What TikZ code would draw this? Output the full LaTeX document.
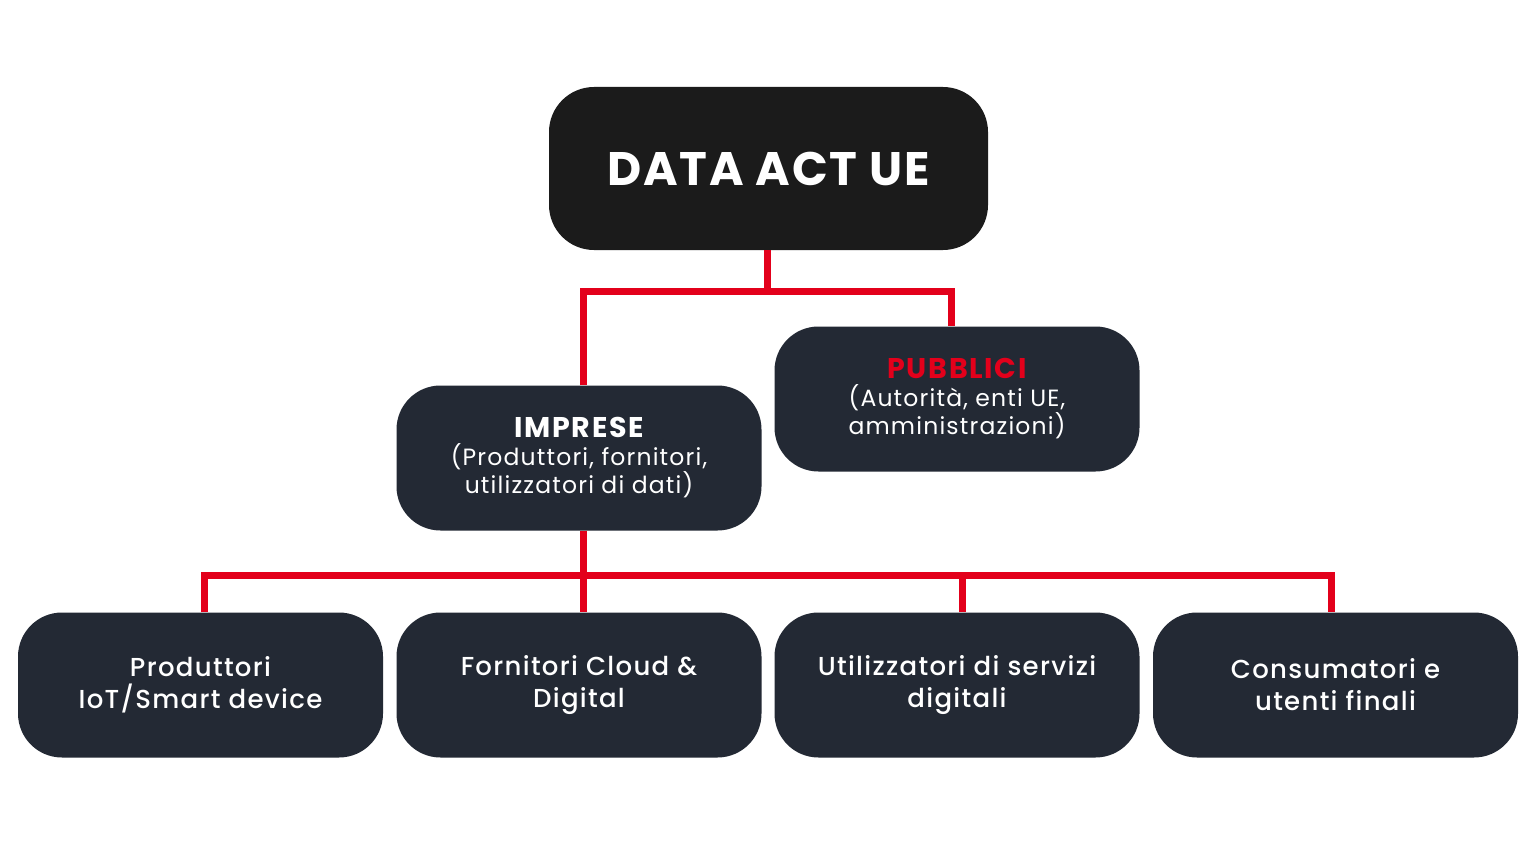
\documentclass[tikz,border=0pt]{standalone}
\usepackage{fontspec}
\setmainfont{Poppins}
\newfontfamily\pmed{Poppins Medium}[LetterSpace=5]
\newfontfamily\preg{Poppins}[LetterSpace=5]
\newfontfamily\pbold{Poppins}[BoldFont=* Bold,LetterSpace=4]
\newfontfamily\phead{Poppins}[BoldFont=* Bold,LetterSpace=6]
\definecolor{redline}{HTML}{E3001B}
\definecolor{topfill}{HTML}{1B1B1B}
\definecolor{boxfill}{HTML}{232934}
\begin{document}
\begin{tikzpicture}[x=1pt,y=-1pt,
  box/.style={fill=boxfill,rounded corners=44pt,minimum width=365pt,minimum height=145pt,inner sep=0pt,align=center,text=white},
  link/.style={draw=redline,line width=7pt,line join=miter}]
\useasboundingbox[fill=white] (0,0) rectangle (1536,864);
\node[fill=topfill,rounded corners=45pt,minimum width=439pt,minimum height=163pt,inner sep=0pt,text=white,font={\pbold\bfseries\fontsize{47}{52}\selectfont}] (top) at (768.5,168.5) {DATA ACT UE};
\node[box,font={\preg\fontsize{23.5}{28}\selectfont}] (imp) at (579,458) {{\phead\bfseries\fontsize{28.5}{29}\selectfont IMPRESE}\\(Produttori, fornitori,\\utilizzatori di dati)};
\node[box,font={\preg\fontsize{23.5}{28}\selectfont}] (pub) at (957,399) {{\phead\bfseries\fontsize{28.5}{29}\selectfont\color{redline}PUBBLICI}\\(Autorità, enti UE,\\amministrazioni)};
\node[box,font={\pmed\fontsize{26}{32}\selectfont}] (b1) at (200.5,685) {Produttori\\IoT/Smart device};
\node[box,font={\pmed\fontsize{26}{32}\selectfont}] (b2) at (579,685) {Fornitori Cloud \&\\Digital};
\node[box,font={\pmed\fontsize{26}{32}\selectfont}] (b3) at (957,685) {Utilizzatori di servizi\\digitali};
\node[box,font={\pmed\fontsize{26}{32}\selectfont}] (b4) at (1335.5,685) {Consumatori e\\utenti finali};
\draw[link] ([xshift=-1.5pt]top.south) -- ++(0,41) coordinate (j1);
\draw[link] ([xshift=4pt]imp.north) |- (j1) -| ([xshift=-6pt]pub.north);
\draw[link] ([xshift=4pt]imp.south) -- ([xshift=4pt]b2.north);
\coordinate (j2) at (583,575);
\draw[link] ([xshift=3.5pt]b1.north) |- (j2) -| ([xshift=-4.5pt]b4.north);
\draw[link] ([xshift=5pt]b3.north) -- ([xshift=5pt]b3.north |- j2);
\end{tikzpicture}
\end{document}
